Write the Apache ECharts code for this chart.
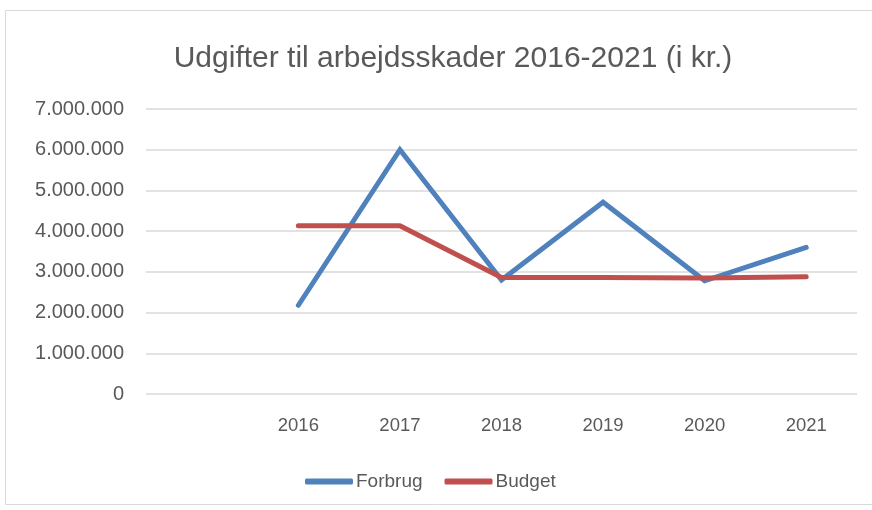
<!DOCTYPE html>
<html>
<head>
<meta charset="utf-8">
<script src="https://cdn.jsdelivr.net/npm/echarts@6/dist/echarts.min.js"></script>
<style>
  html, body { margin: 0; padding: 0; background: #fff; }
  #chart { width: 872px; height: 510px; }
</style>
</head>
<body>
<div id="chart"></div>
<script>
var years = ['', '2016', '2017', '2018', '2019', '2020', '2021'];
var forbrug = [null, 2180000, 6000000, 2800000, 4710000, 2780000, 3600000];
var budget = [null, 4130000, 4130000, 2860000, 2860000, 2850000, 2880000];

var textColor = '#595959';
var font = 'Liberation Sans';

function formatDk(val) {
    return String(val).replace(/\B(?=(\d{3})+(?!\d))/g, '.');
}

var myChart = echarts.init(document.getElementById('chart'));

var option = {
    animation: false,
    graphic: [
        {
            type: 'rect',
            shape: { x: 5.5, y: 10.5, width: 900, height: 494 },
            style: { fill: 'none', stroke: '#d9d9d9', lineWidth: 1 }
        }
    ],
    title: {
        text: 'Udgifter til arbejdsskader 2016-2021 (i kr.)',
        left: 448,
        textAlign: 'center',
        top: 39,
        textStyle: {
            color: textColor,
            fontFamily: font,
            fontWeight: 'normal',
            fontSize: 30
        }
    },
    legend: {
        top: 467,
        left: 300,
        itemWidth: 48,
        itemHeight: 6,
        itemGap: 22,
        icon: 'roundRect',
        textStyle: { color: textColor, fontFamily: font, fontSize: 19, padding: [0, 0, 0, -2] },
        data: ['Forbrug', 'Budget']
    },
    grid: {
        left: 146,
        right: 15,
        top: 109,
        bottom: 116
    },
    xAxis: {
        type: 'category',
        data: years,
        boundaryGap: true,
        axisLine: { show: false },
        axisTick: { show: false },
        axisLabel: { color: textColor, fontFamily: font, fontSize: 18.5, margin: 22 }
    },
    yAxis: {
        type: 'value',
        min: 0,
        max: 7000000,
        interval: 1000000,
        axisLine: { show: false },
        axisTick: { show: false },
        splitLine: { lineStyle: { color: '#d9d9d9', width: 1.5 } },
        axisLabel: {
            color: textColor,
            fontFamily: font,
            fontSize: 20,
            margin: 22,
            formatter: formatDk
        }
    },
    series: [
        {
            name: 'Forbrug',
            type: 'line',
            data: forbrug,
            symbol: 'none',
            color: '#4F81BD',
            lineStyle: { width: 5, cap: 'round', join: 'miter' }
        },
        {
            name: 'Budget',
            type: 'line',
            data: budget,
            symbol: 'none',
            color: '#C0504D',
            lineStyle: { width: 5, cap: 'round', join: 'round' }
        }
    ]
};

myChart.setOption(option);
</script>
</body>
</html>
